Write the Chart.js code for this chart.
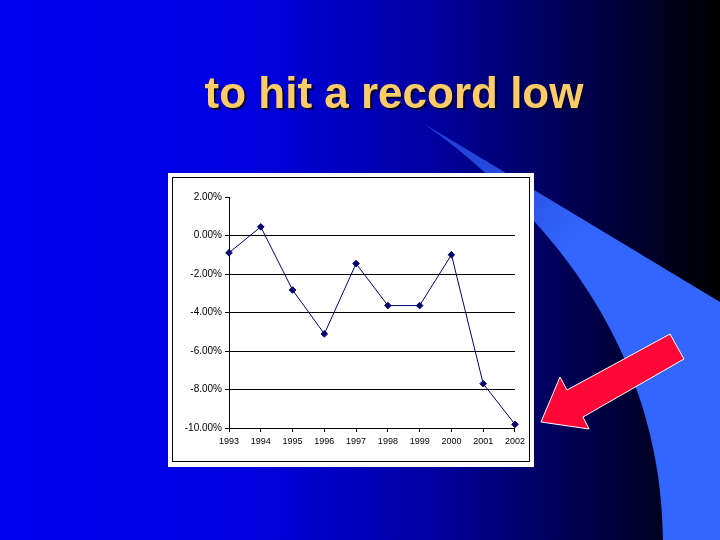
<!DOCTYPE html>
<html>
<head>
<meta charset="utf-8">
<script src="https://cdn.jsdelivr.net/npm/chart.js@4/dist/chart.umd.min.js"></script>
<style>
    body { margin: 0; background: #000; }
    #slide { position: relative; width: 720px; height: 540px; overflow: hidden; }
    #bg { position: absolute; left: 0; top: 0; }
    #title {
        position: absolute; left: 74px; top: 71px; width: 640px;
        text-align: center; font: bold 44px "Liberation Sans", Arial, sans-serif;
        line-height: 44px; color: #ffcc66; text-shadow: 2px 2px 1px #000033;
    }
    #chartWrap { position: absolute; left: 173px; top: 178px; width: 356px; height: 283px; }
</style>
</head>
<body>
<div id="slide">
    <canvas id="bg" width="720" height="540"></canvas>
    <div id="title">to hit a record low</div>
    <div id="chartWrap"><canvas id="chart" width="356" height="283"></canvas></div>
</div>
<script>
const years = ['1993', '1994', '1995', '1996', '1997', '1998', '1999', '2000', '2001', '2002'];
const changePct = [-0.90, 0.45, -2.83, -5.11, -1.46, -3.64, -3.64, -1.00, -7.70, -9.81];
const yMin = -10;
const yMax = 2;
const yStep = 2;

// slide background, swoosh, chart frame and arrow
function drawSlide() {
    const ctx = document.getElementById('bg').getContext('2d');
    const g = ctx.createLinearGradient(0, 0, 720, 0);
    g.addColorStop(0, '#0000f2');
    g.addColorStop(0.35, '#0000e0');
    g.addColorStop(0.6, '#0000a0');
    g.addColorStop(0.8, '#000050');
    g.addColorStop(1, '#000000');
    ctx.fillStyle = g;
    ctx.fillRect(0, 0, 720, 540);

    // light blue swoosh
    const sg = ctx.createLinearGradient(423, 123, 570, 250);
    sg.addColorStop(0, 'rgba(51,102,255,0.55)');
    sg.addColorStop(1, '#3366ff');
    ctx.fillStyle = sg;
    ctx.beginPath();
    ctx.moveTo(423, 123);
    ctx.lineTo(720, 302);
    ctx.lineTo(720, 540);
    ctx.lineTo(663, 540);
    ctx.bezierCurveTo(662, 400, 600, 250, 423, 123);
    ctx.closePath();
    ctx.fill();

    // chart frame
    ctx.fillStyle = '#fff';
    ctx.fillRect(168, 173, 366, 294);
    ctx.strokeStyle = '#000';
    ctx.lineWidth = 1;
    ctx.strokeRect(172.5, 177.5, 357, 284);

    // red arrow
    ctx.beginPath();
    ctx.moveTo(541, 422);
    ctx.lineTo(560, 377);
    ctx.lineTo(567, 390);
    ctx.lineTo(670, 334);
    ctx.lineTo(684, 359);
    ctx.lineTo(583, 417);
    ctx.lineTo(589, 429);
    ctx.closePath();
    ctx.fillStyle = '#ff0838';
    ctx.fill();
    ctx.strokeStyle = '#ffffff';
    ctx.lineWidth = 1;
    ctx.stroke();
}
drawSlide();

const chart = new Chart(document.getElementById('chart').getContext('2d'), {
    type: 'line',
    data: {
        labels: years,
        datasets: [{
            data: changePct,
            borderColor: '#000070',
            borderWidth: 1,
            pointStyle: 'rectRot',
            pointRadius: 3.3,
            pointBackgroundColor: '#000070',
            pointBorderColor: '#000070',
            tension: 0
        }]
    },
    options: {
        responsive: false,
        animation: false,
        layout: { padding: { top: 19, right: 13, left: 0, bottom: 0 } },
        plugins: { legend: { display: false }, tooltip: { enabled: false } },
        scales: {
            x: {
                offset: false,
                grid: { drawOnChartArea: false, drawTicks: true, tickLength: 4, tickColor: '#000' },
                border: { color: '#000', width: 1 },
                ticks: { color: '#000', font: { family: 'Liberation Sans', size: 9 }, padding: 4, maxRotation: 0 },
                afterFit: s => { s.height = 33; }
            },
            y: {
                min: yMin,
                max: yMax,
                grid: {
                    color: c => (c.tick && c.tick.value === yMax) ? 'rgba(0,0,0,0)' : '#000',
                    tickColor: '#000',
                    tickLength: 4
                },
                border: { color: '#000', width: 1 },
                ticks: {
                    stepSize: yStep,
                    color: '#000',
                    font: { family: 'Liberation Sans', size: 10 },
                    padding: 3,
                    callback: v => v.toFixed(2) + '%'
                },
                afterFit: s => { s.width = 56; }
            }
        }
    }
});
</script>
</body>
</html>
